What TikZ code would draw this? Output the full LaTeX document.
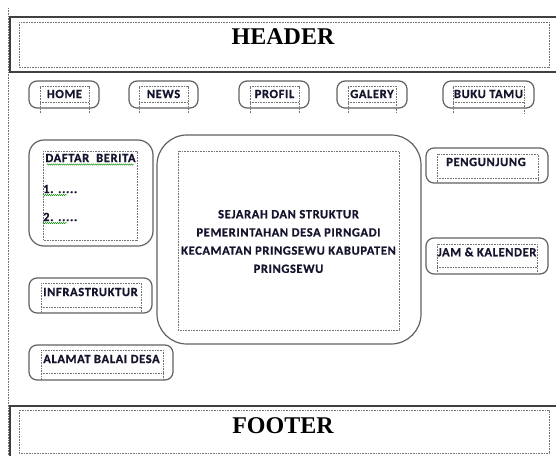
\documentclass[tikz,border=0pt]{standalone}
\usepackage{fontspec}
\setmainfont{Carlito}
\newfontfamily\lblfont{Carlito Bold}[LetterSpace=5, FakeBold=0.8]
\newfontfamily\hdrfont{Liberation Serif}[BoldFont={Liberation Serif Bold}]
\usetikzlibrary{decorations.pathmorphing}
\definecolor{txt}{RGB}{20,20,45}
\begin{document}
\begin{tikzpicture}[x=1pt,y=-1pt,
  rbox/.style={draw=black!62, line width=1.2pt, rounded corners=8pt},
  dbox/.style={draw=black!55, line width=0.6pt, dash pattern=on 0.9pt off 0.7pt},
  outerbox/.style={draw=black!75, line width=1.4pt},
  lbl/.style={font=\lblfont\fontsize{12.5}{14}\selectfont, text=txt, inner sep=0pt},
  big/.style={font=\hdrfont\fontsize{24}{26}\selectfont\bfseries, text=black, inner sep=0pt},
  wavy/.style={draw=green!55!black, line width=0.45pt, decorate, decoration={snake, amplitude=0.6pt, segment length=2pt}}
]
\useasboundingbox (0,0) rectangle (556,455);
% left guide line
\draw[dbox] (8,8) -- (8,456);
% header
\draw[outerbox] (10,17) rectangle (560,72);
\draw[dbox] (19,22) rectangle (549,67);
\node[big] (header) at (283,37) {HEADER};
% footer
\draw[outerbox] (10,406) rectangle (560,460);
\draw[dbox] (19,410) rectangle (549,453);
\node[big] (footer) at (283,426) {FOOTER};
% nav buttons
\draw[rbox] (29,81) rectangle (99,108);
\draw[dbox] (40,113) -- (40,86) -- (89,86) -- (89,113) (40,102) -- (89,102);
\node[lbl] (home) at (64.5,94) {HOME};
\draw[rbox] (129,81) rectangle (198,108);
\draw[dbox] (139,113) -- (139,86) -- (188,86) -- (188,113) (139,102) -- (188,102);
\node[lbl] (news) at (163.5,94) {NEWS};
\draw[rbox] (239,81) rectangle (309,108);
\draw[dbox] (250,113) -- (250,86) -- (299,86) -- (299,113) (250,102) -- (299,102);
\node[lbl] (profil) at (274.5,94) {PROFIL};
\draw[rbox] (337,81) rectangle (407,108);
\draw[dbox] (348,113) -- (348,86) -- (396,86) -- (396,113) (348,102) -- (396,102);
\node[lbl] (galery) at (372,94) {GALERY};
\draw[rbox] (443,81) rectangle (534,108);
\draw[dbox] (453,113) -- (453,86) -- (524,86) -- (524,113) (453,102) -- (524,102);
\node[lbl] (buku) at (488.5,94) {BUKU TAMU};
% daftar berita
\draw[rbox, rounded corners=15pt] (29,140) rectangle (153,246);
\draw[dbox] (43,151) rectangle (137,240);
\node[lbl] (daftar) at (90.5,158) {DAFTAR\ \ BERITA};
\draw[wavy] (47,164.5) -- (134,164.5);
\node[lbl, anchor=west] (item1) at (43,189) {1. .....};
\draw[wavy] (43,195) -- (67,195);
\node[lbl, anchor=west] (item2) at (43,217) {2. .....};
\draw[wavy] (43,223) -- (67,223);
% center
\draw[rbox, rounded corners=30pt] (157,135) rectangle (421,344);
\draw[dbox] (178,151) rectangle (399,330);
\node[lbl, align=center, font=\lblfont\fontsize{12.5}{18.2}\selectfont] (sejarah) at (288.5,241.5)
  {SEJARAH DAN STRUKTUR\\PEMERINTAHAN DESA PIRNGADI\\KECAMATAN PRINGSEWU KABUPATEN\\PRINGSEWU};
% right side
\draw[rbox] (426,148) rectangle (548,183);
\draw[dbox] (437,182) -- (437,154) -- (538,154) -- (538,182) (437,178) -- (538,178);
\node[lbl] (pengunjung) at (486,162) {PENGUNJUNG};
\draw[rbox] (426,238) rectangle (548,274);
\draw[dbox] (437,272) -- (437,244) -- (537,244) -- (537,272) (437,267) -- (537,267);
\node[lbl] (jam) at (487,252) {JAM \& KALENDER};
% left lower
\draw[rbox] (29,278) rectangle (152,313);
\draw[dbox] (41,313) -- (41,283) -- (141,283) -- (141,313) (41,307) -- (141,307);
\node[lbl] (infra) at (90.5,292) {INFRASTRUKTUR};
\draw[rbox] (29,345) rectangle (173,380);
\draw[dbox] (41,380) -- (41,350) -- (163,350) -- (163,380) (41,373) -- (163,373);
\node[lbl] (alamat) at (101.5,359) {ALAMAT BALAI DESA};
\end{tikzpicture}
\end{document}
